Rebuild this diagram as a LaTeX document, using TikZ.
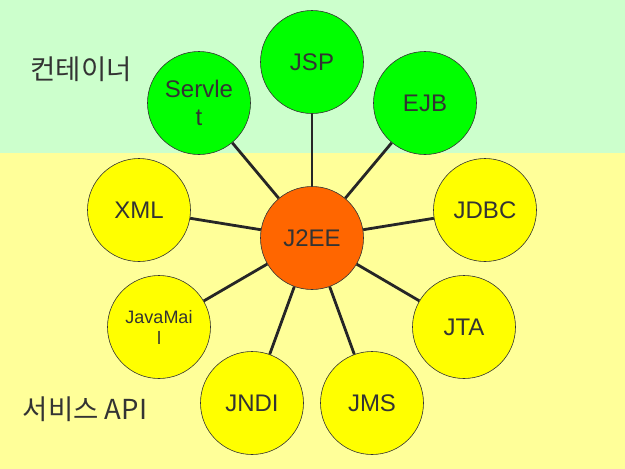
\documentclass[tikz,border=0pt]{standalone}
\usepackage{fontspec}
\setmainfont{Liberation Sans}
\newfontfamily\kofont{Noto Sans CJK KR}
\usepackage{tikz}
\usetikzlibrary{positioning}
\definecolor{bandgreen}{RGB}{204,255,204}
\definecolor{bandyellow}{RGB}{255,255,153}
\definecolor{ballgreen}{RGB}{0,255,0}
\definecolor{ballyellow}{RGB}{255,255,0}
\definecolor{ringline}{RGB}{51,51,51}
\definecolor{labelgray}{RGB}{51,51,51}
\definecolor{hubred}{RGB}{255,102,0}

\begin{document}
\begin{tikzpicture}[
    x=1pt, y=-1pt,
    font=\fontsize{24}{28}\selectfont,
    ball/.style={circle, draw=ringline, line width=0.6pt, minimum size=103pt,
        inner sep=0pt, align=center, text=labelgray},
    container/.style={ball, fill=ballgreen},
    service/.style={ball, fill=ballyellow},
    hub/.style={ball, fill=hubred},
    smalltext/.style={font=\fontsize{18}{21}\selectfont},
    link/.style={line width=2.8pt, draw=black!85},
    zone/.style={font=\kofont\fontsize{27.5}{32}\selectfont, text=labelgray}
]

% === BACKGROUND BANDS ===
\useasboundingbox (0,0) rectangle (625,469);
\fill[bandgreen] (0,0) rectangle (625,153);
\fill[bandyellow] (0,153) rectangle (625,469);

% === ZONE LABELS ===
\node[zone] (containerlabel) at (81,69) {컨테이너};
\node[zone] (servicelabel) at (85,409) {서비스 API};

% === HUB ===
\node[hub] (j2ee) at (312,238) {J2EE};

% === CONTAINERS ===
\node[container] (servlet) at (199,103) {Servle\\t};
\node[container] (jsp) at (312,62) {JSP};
\node[container] (ejb) at (425,103) {EJB};

% === SERVICE APIS ===
\node[service] (xml) at (139,210) {XML};
\node[service] (jdbc) at (485,210) {JDBC};
\node[service, smalltext] (javamail) at (159,327) {JavaMai\\l};
\node[service] (jta) at (464,327) {JTA};
\node[service] (jndi) at (252,403) {JNDI};
\node[service] (jms) at (372,403) {JMS};

% Links
\draw[link] (j2ee) -- (servlet);
\draw[link] (j2ee) -- (jsp);
\draw[link] (j2ee) -- (ejb);
\draw[link] (j2ee) -- (xml);
\draw[link] (j2ee) -- (jdbc);
\draw[link] (j2ee) -- (javamail);
\draw[link] (j2ee) -- (jta);
\draw[link] (j2ee) -- (jndi);
\draw[link] (j2ee) -- (jms);

\end{tikzpicture}
\end{document}
